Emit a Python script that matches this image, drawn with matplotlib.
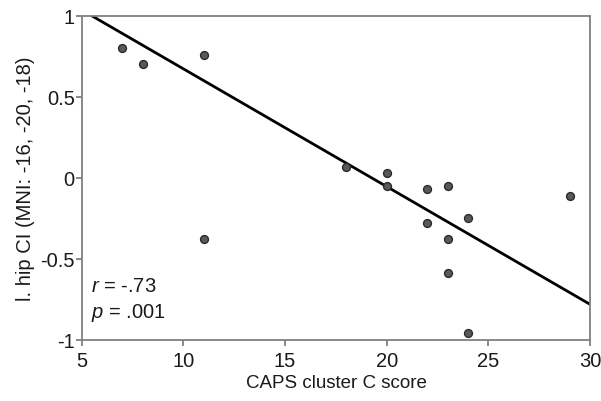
import numpy as np
import matplotlib.pyplot as plt

plt.rcParams['font.family'] = ['Liberation Sans', 'DejaVu Sans']
plt.rcParams['mathtext.fontset'] = 'custom'
plt.rcParams['mathtext.rm'] = 'Liberation Sans'
plt.rcParams['mathtext.it'] = 'Liberation Sans:italic'

# CAPS cluster C score vs l. hip CI
caps_score = [7, 8, 11, 11, 18, 20, 20, 22, 22, 23, 23, 23, 24, 24, 29]
hip_ci = [0.80, 0.70, 0.76, -0.38, 0.07, 0.03, -0.05, -0.07, -0.28,
          -0.05, -0.38, -0.59, -0.25, -0.96, -0.11]

# regression line
fit_intercept = 1.40
fit_slope = -0.0727
fit_range = [5.5, 30]

fig = plt.figure(figsize=(6.01, 4.02), dpi=100)
ax = fig.add_axes([0.136, 0.152, 0.846, 0.806])

lx = np.array(fit_range)
ax.plot(lx, fit_intercept + fit_slope * lx, color='black', linewidth=2, zorder=2)
ax.scatter(caps_score, hip_ci, s=32, color='#5a5a5a', edgecolors='#2a2a2a',
           linewidths=1, zorder=3)

ax.set_xlim(5, 30)
ax.set_ylim(-1, 1)
ax.set_xticks([5, 10, 15, 20, 25, 30])
ax.set_yticks([-1, -0.5, 0, 0.5, 1])
ax.set_yticklabels(['-1', '-0.5', '0', '0.5', '1'])

for s in ax.spines.values():
    s.set_color('#808080')
    s.set_linewidth(1.3)
ax.tick_params(direction='out', length=4, width=1.3, color='#808080',
               labelsize=14.5, labelcolor='#1a1a1a')
ax.tick_params(axis='x', pad=4)
ax.tick_params(axis='y', pad=1)

ax.set_xlabel('CAPS cluster C score', fontsize=13.5, color='#1a1a1a', labelpad=3)
ax.set_ylabel('l. hip CI (MNI: -16, -20, -18)', fontsize=14.5, color='#1a1a1a', labelpad=4)

ax.text(0.018, 0.15, '$r$ = -.73', transform=ax.transAxes, fontsize=14.5,
        color='#1a1a1a')
ax.text(0.018, 0.072, '$p$ = .001', transform=ax.transAxes, fontsize=14.5,
        color='#1a1a1a')

fig.savefig('out.png', dpi=100)
